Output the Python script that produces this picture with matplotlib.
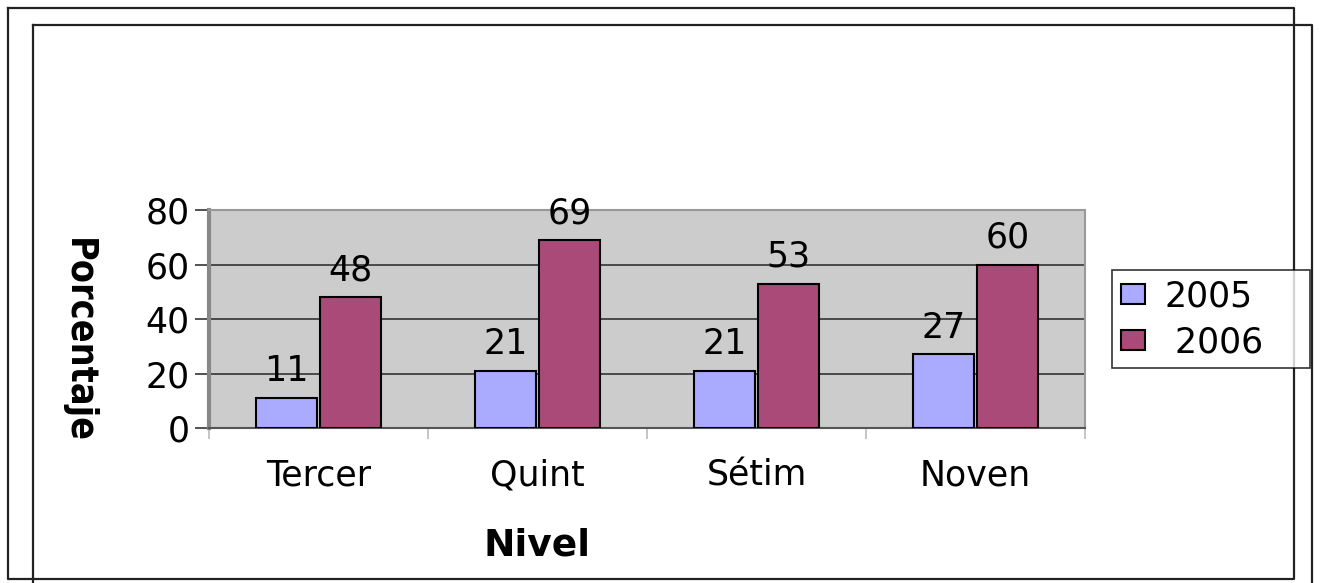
import matplotlib
matplotlib.use('Agg')
import matplotlib.pyplot as plt
from matplotlib.lines import Line2D
from matplotlib.patches import Patch
import numpy as np

niveles = ['Tercer', 'Quint', 'Sétim', 'Noven']
anio_2005 = [11, 21, 21, 27]
anio_2006 = [48, 69, 53, 60]
series_labels = ['2005', ' 2006']
y_ticks = [0, 20, 40, 60, 80]

plt.rcParams['font.family'] = ['DejaVu Sans']

W, H = 1323, 583
fig = plt.figure(figsize=(W / 100, H / 100), dpi=100)

def fx(px):
    return px / W

def fy(py):
    return 1 - py / H

# outer frames
fig.add_artist(Line2D([fx(8), fx(1294), fx(1294), fx(8), fx(8)],
                      [fy(8), fy(8), fy(579), fy(579), fy(8)],
                      color='#222222', lw=1.6))
fig.add_artist(Line2D([fx(33), fx(33)], [fy(25), 0], color='#222222', lw=1.6))
fig.add_artist(Line2D([fx(33), fx(1312), fx(1312)], [fy(25), fy(25), 0],
                      color='#222222', lw=1.6))

ax = fig.add_axes([fx(209), fy(428), fx(1085) - fx(209), fy(210) - fy(428)])
ax.set_facecolor('#CCCCCC')

x = np.arange(len(niveles))
w = 0.28
off = 0.147
b1 = ax.bar(x - off, anio_2005, w, color='#AAAAFF', edgecolor='black', lw=1.5, zorder=3)
b2 = ax.bar(x + off, anio_2006, w, color='#AA4A78', edgecolor='black', lw=1.5, zorder=3)

for bars, vals in ((b1, anio_2005), (b2, anio_2006)):
    for r, v in zip(bars, vals):
        ax.annotate(str(v), (r.get_x() + r.get_width() / 2, v), xytext=(0, 7),
                    textcoords='offset points', ha='center', va='bottom',
                    fontsize=25, zorder=4)

ax.set_xlim(-0.5, 3.5)
ax.set_ylim(0, 80)
ax.set_yticks(y_ticks)
ax.tick_params(axis='y', labelsize=25, length=10, width=1.2, color='#333333', pad=4)
ax.yaxis.grid(True, color='#333333', lw=1.2, zorder=1)
ax.set_axisbelow(True)

ax.set_xticks(x)
ax.set_xticklabels(niveles, fontsize=25)
ax.tick_params(axis='x', length=0, pad=22)
ax.set_xticks(np.arange(-0.5, 4, 1), minor=True)
ax.tick_params(axis='x', which='minor', length=8, color='#BBBBBB', width=1.2)

for s in ('top', 'right'):
    ax.spines[s].set_color('#999999')
    ax.spines[s].set_linewidth(1.5)
ax.spines['left'].set_color('#888888')
ax.spines['left'].set_linewidth(3)
ax.spines['bottom'].set_color('#555555')
ax.spines['bottom'].set_linewidth(1.5)

fig.text(fx(537), fy(545), 'Nivel', ha='center', va='center',
         fontsize=27, fontweight='bold')
fig.text(fx(78), fy(340), 'Porcentaje', rotation=270, ha='center', va='center',
         fontsize=27, fontweight='bold', fontstretch='condensed')

handles = [Patch(facecolor='#AAAAFF', edgecolor='black', lw=1.5),
           Patch(facecolor='#AA4A78', edgecolor='black', lw=1.5)]
leg = fig.legend(handles, series_labels, loc='upper left', mode='expand',
                 bbox_to_anchor=(fx(1112), fy(368), fx(1310) - fx(1112),
                                 fy(270) - fy(368)),
                 fontsize=25, frameon=True, fancybox=False, edgecolor='black',
                 handlelength=0.7, handleheight=0.5, handletextpad=0.55,
                 borderpad=0.26, labelspacing=0.35, borderaxespad=0)
leg.get_frame().set_linewidth(1.2)

fig.savefig('out.png', dpi=100)
